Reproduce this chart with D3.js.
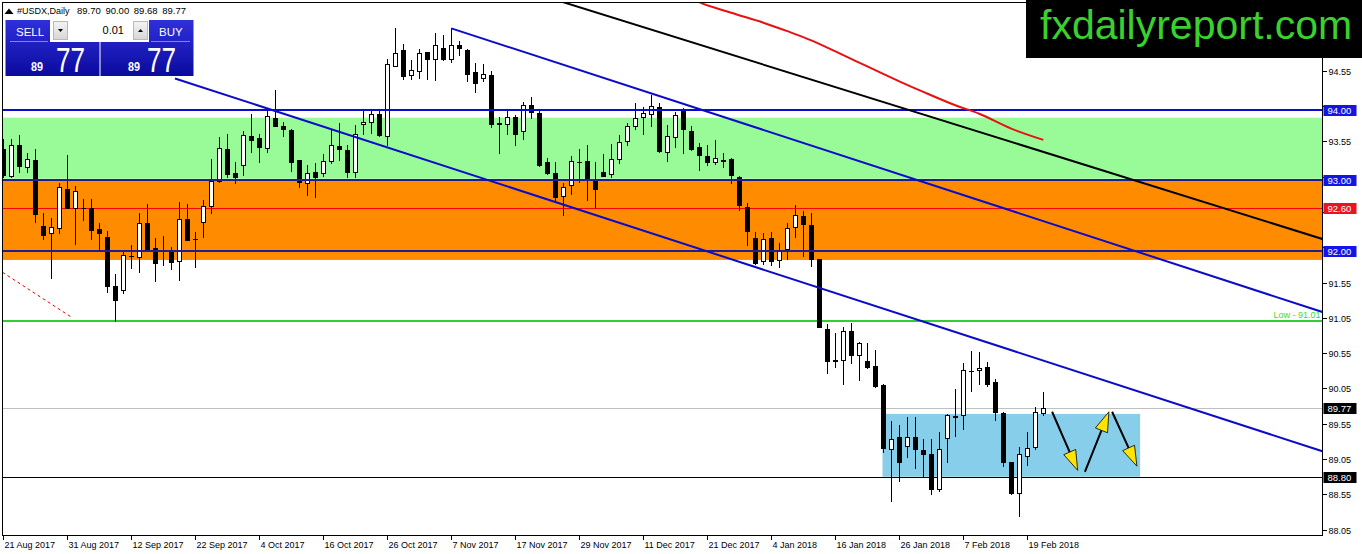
<!DOCTYPE html>
<html><head><meta charset="utf-8">
<script src="https://cdn.jsdelivr.net/npm/d3@7"></script>
<style>
html,body{margin:0;padding:0;background:#fff;overflow:hidden}
svg{display:block;font-family:"Liberation Sans",Arial,sans-serif}
</style></head><body>
<svg id="chart" width="1362" height="554"></svg>
<script>
// ---------- DATA ----------
const opens  = [93.44,93.06,93.50,93.18,93.28,92.35,92.25,92.32,92.88,92.61,92.61,92.61,92.31,92.20,91.50,91.44,91.92,91.91,92.39,92.04,
92.01,92.01,91.85,92.45,92.17,92.41,92.64,92.99,93.44,93.10,93.21,93.62,93.59,93.46,93.88,93.77,93.71,93.28,92.96,93.11,
93.10,93.27,93.49,93.43,93.12,93.80,93.83,93.93,93.63,94.62,94.84,94.49,94.54,94.81,94.72,94.87,94.71,94.91,94.85,94.53,
94.44,94.49,93.80,93.80,93.90,93.70,94.06,93.95,93.25,93.10,92.77,92.93,93.26,93.27,93.00,93.11,93.09,93.30,93.56,93.76,
93.90,93.93,94.03,93.40,93.61,93.99,93.70,93.47,93.34,93.25,93.27,93.30,93.04,92.62,92.18,91.86,92.18,91.87,92.02,92.33,
92.49,92.36,91.88,90.89,90.44,90.46,90.86,90.53,90.44,90.37,90.10,89.19,89.36,89.24,89.36,89.18,89.12,88.62,89.35,89.65,
89.67,90.30,90.31,90.35,90.14,89.70,89.01,88.57,89.09,89.22,89.70];
const highs  = [93.58,93.58,93.64,93.38,93.44,92.54,92.47,92.96,93.36,92.92,92.73,92.73,92.39,92.28,91.67,92.00,92.08,92.53,92.66,92.18,
92.21,92.06,92.69,92.66,92.27,92.72,93.30,93.61,93.66,93.26,93.69,93.93,93.65,94.00,94.28,93.83,93.73,93.29,93.21,93.24,
93.37,93.73,93.81,93.50,93.78,94.00,94.00,94.00,94.72,95.15,94.93,94.70,94.86,94.81,95.08,95.06,95.15,94.97,94.86,94.66,
94.64,94.55,93.90,93.98,93.92,94.11,94.18,93.99,93.31,93.26,92.96,93.34,93.44,93.50,93.25,93.37,93.51,93.64,93.81,94.09,
94.03,94.21,94.09,93.78,93.97,94.02,93.76,93.53,93.50,93.57,93.39,93.32,93.06,92.68,92.26,92.25,92.26,92.11,92.40,92.65,
92.57,92.54,91.89,90.97,90.83,90.92,90.98,90.71,90.70,90.59,90.12,89.59,89.53,89.64,89.64,89.34,89.33,89.44,89.69,90.04,
90.41,90.58,90.56,90.43,90.18,89.71,89.01,89.22,89.44,89.79,90.00];
const lows   = [93.05,93.05,93.12,93.12,92.41,92.17,91.62,92.25,92.60,92.10,92.44,92.17,91.99,91.41,91.01,91.40,91.76,91.70,92.02,91.57,
91.80,91.74,91.59,92.15,91.77,92.20,92.54,92.97,93.05,92.96,93.07,93.40,93.26,93.40,93.76,93.62,93.13,92.90,92.79,92.76,
93.06,93.24,93.29,93.05,93.05,93.66,93.67,93.62,93.50,94.61,94.43,94.43,94.44,94.43,94.42,94.70,94.68,94.77,94.40,94.25,
94.40,93.75,93.39,93.66,93.50,93.58,93.88,93.20,93.09,92.72,92.51,92.81,92.98,92.72,92.61,93.06,93.05,93.24,93.50,93.73,
93.66,93.76,93.40,93.27,93.47,93.38,93.43,93.15,93.22,93.23,93.19,92.96,92.58,92.08,91.81,91.81,91.80,91.77,91.88,92.20,
91.92,91.78,90.92,90.27,90.35,90.11,90.41,90.17,90.34,90.07,89.15,88.45,88.74,89.08,88.92,88.80,88.56,88.60,89.01,89.37,
89.47,90.01,90.12,90.08,89.61,88.95,88.55,88.25,88.96,89.19,89.68];
const closes = [93.07,93.50,93.20,93.30,92.52,92.23,92.33,92.90,92.61,92.85,92.60,92.30,92.25,91.50,91.30,91.94,91.92,92.40,92.02,91.82,
92.00,91.84,92.45,92.15,92.17,92.64,92.99,93.45,93.09,93.05,93.64,93.57,93.47,93.91,93.77,93.72,93.26,92.98,93.10,93.05,
93.27,93.50,93.44,93.12,93.65,93.83,93.93,93.64,94.64,94.80,94.48,94.56,94.80,94.71,94.92,94.71,94.92,94.87,94.51,94.38,
94.50,93.80,93.81,93.90,93.66,94.07,93.96,93.21,93.10,92.76,92.91,93.27,93.26,93.01,92.88,93.06,93.30,93.54,93.76,93.88,
93.95,94.05,93.41,93.62,93.92,93.72,93.44,93.36,93.26,93.31,93.28,93.07,92.65,92.28,91.83,92.16,91.86,92.00,92.32,92.51,
92.38,91.89,90.92,90.44,90.45,90.87,90.52,90.69,90.35,90.08,89.20,89.34,89.01,89.36,89.19,89.12,88.63,89.19,89.67,89.66,
90.31,90.30,90.34,90.12,89.71,89.01,88.57,89.12,89.21,89.71,89.77];

const dateLabels = ["21 Aug 2017","31 Aug 2017","12 Sep 2017","22 Sep 2017","4 Oct 2017","16 Oct 2017","26 Oct 2017",
  "7 Nov 2017","17 Nov 2017","29 Nov 2017","11 Dec 2017","21 Dec 2017","4 Jan 2018","16 Jan 2018","26 Jan 2018",
  "7 Feb 2018","19 Feb 2018"];
const dateLabelStep = 8;
const priceTicks = [95.05,94.55,94.05,93.55,93.05,92.55,92.05,91.55,91.05,90.55,90.05,89.55,89.05,88.55,88.05];

// moving average (red) read at selected bars
const maIdx = [86,87,91,95,98,101,105,108,112,115,119,122,126,130];
const maVal = [95.60,95.52,95.37,95.23,95.11,94.98,94.77,94.61,94.40,94.25,94.06,93.94,93.73,93.57];

// horizontal levels
const levelBlueTop = 94.00, levelBlueMid = 93.00, levelBlueLow = 92.00;
const levelRed = 92.60, levelLow = 91.01, levelBid = 89.77, levelBlack = 88.80;
// zones [top value, bottom value]
const greenZone = [93.885, 93.02];
const orangeZone = [93.00, 91.87];
const boxZoneIdx = [109.9, 142.1];
const boxZoneVal = [89.69, 88.80];
// trend lines: [index1, value1, index2, value2]
const upperChannel = [56, 95.15, 130, 92.42];
const lowerChannel = [21.46, 94.44, 130, 90.445];
const blackTrend = [70, 95.52, 130, 93.40];
const redDashed = [-0.3, 91.71, 8.55, 91.057];
// hand-drawn arrows
const arrowFrom = [[131.1, 89.72],[135.2, 88.87],[138.6, 89.72]];
const arrowTo   = [[134.3, 88.89],[138.2, 89.72],[141.7, 88.95]];

// ---------- LAYOUT ----------
const L = 2.5, T = 2.5, R = 1322.5, B = 535.5;
const svg = d3.select('#chart');
const x = d3.scaleLinear().domain([0, 130]).range([3.3, 1043.3]);
const y = d3.scaleLinear().domain([88.05, 94.55]).range([529.7, 70.7]);
const iLeft = x.invert(L), iRight = x.invert(R);
const LOGO_BOTTOM = 58;

const defs = svg.append('defs');
defs.append('clipPath').attr('id','plotclip').append('rect')
  .attr('x', L+0.5).attr('y', T+0.5).attr('width', R-L-1).attr('height', B-T-1);
const grad = defs.append('linearGradient').attr('id','bluegrad').attr('x1',0).attr('y1',0).attr('x2',0).attr('y2',1);
grad.append('stop').attr('offset','0%').attr('stop-color','#3030dc');
grad.append('stop').attr('offset','100%').attr('stop-color','#0a0a9e');
const btnGrad = defs.append('linearGradient').attr('id','btngrad').attr('x1',0).attr('y1',0).attr('x2',0).attr('y2',1);
btnGrad.append('stop').attr('offset','0%').attr('stop-color','#f4f4f4');
btnGrad.append('stop').attr('offset','100%').attr('stop-color','#d6d6d6');

svg.append('rect').attr('width',1362).attr('height',554).attr('fill','#fff');
const plot = svg.append('g').attr('clip-path','url(#plotclip)');

// zones
plot.append('rect').attr('x', L).attr('width', R-L)
  .attr('y', y(greenZone[0])).attr('height', y(greenZone[1]) - y(greenZone[0])).attr('fill', '#98fb98');
plot.append('rect').attr('x', L).attr('width', R-L)
  .attr('y', y(orangeZone[0])).attr('height', y(orangeZone[1]) - y(orangeZone[0])).attr('fill', '#ff8c00');
plot.append('rect').attr('x', x(boxZoneIdx[0])).attr('width', x(boxZoneIdx[1]) - x(boxZoneIdx[0]))
  .attr('y', y(boxZoneVal[0])).attr('height', y(boxZoneVal[1]) - y(boxZoneVal[0])).attr('fill', '#87ceeb');

// horizontal lines (background ones)
function hline(v, color, w) {
  const yy = Math.round(y(v)) + (w % 2 ? 0.5 : 0);
  plot.append('line').attr('x1', L).attr('x2', R).attr('y1', yy).attr('y2', yy)
    .attr('stroke', color).attr('stroke-width', w).attr('shape-rendering','crispEdges');
}
hline(levelBid, '#c0c0c0', 1);
hline(levelBlack, '#000', 1);
hline(levelRed, '#ff0000', 1);
hline(levelLow, '#32cd32', 2);

// candles
const candles = d3.range(opens.length).map(i => ({i, o: opens[i], h: highs[i], l: lows[i], c: closes[i]}));
const cg = plot.append('g').attr('shape-rendering','crispEdges');
const cx = d => Math.round(x(d.i));
cg.selectAll('line.wick').data(candles).join('line').attr('class','wick')
  .attr('x1', d => cx(d) + 0.5).attr('x2', d => cx(d) + 0.5)
  .attr('y1', d => Math.round(y(d.h))).attr('y2', d => Math.round(y(d.l)) + 1)
  .attr('stroke', '#000');
const bodyTop = d => Math.round(y(Math.max(d.o, d.c)));
const bodyBot = d => Math.round(y(Math.min(d.o, d.c)));
cg.selectAll('rect.body').data(candles.filter(d => bodyBot(d) - bodyTop(d) >= 1)).join('rect').attr('class','body')
  .attr('x', d => cx(d) - 1.5).attr('width', 4)
  .attr('y', d => bodyTop(d) + 0.5).attr('height', d => bodyBot(d) - bodyTop(d))
  .attr('fill', d => d.c >= d.o ? '#fff' : '#000').attr('stroke', '#000');
cg.selectAll('line.doji').data(candles.filter(d => bodyBot(d) - bodyTop(d) < 1)).join('line').attr('class','doji')
  .attr('x1', d => cx(d) - 2).attr('x2', d => cx(d) + 3)
  .attr('y1', d => bodyTop(d) + 0.5).attr('y2', d => bodyTop(d) + 0.5).attr('stroke', '#000');

// blue level lines on top
hline(levelBlueTop, '#0a0ad2', 2);
hline(levelBlueMid, '#1e1e8e', 2);
hline(levelBlueLow, '#1e1e8e', 2);

// trend lines
function valAt(t, i) { return t[1] + (t[3] - t[1]) / (t[2] - t[0]) * (i - t[0]); }
function ray(t, color, w, extendLeft) {
  const i1 = extendLeft ? iLeft : t[0];
  plot.append('line')
    .attr('x1', x(i1)).attr('y1', y(valAt(t, i1)))
    .attr('x2', x(iRight)).attr('y2', y(valAt(t, iRight)))
    .attr('stroke', color).attr('stroke-width', w);
}
ray(upperChannel, '#0c0cc8', 2, false);
ray(lowerChannel, '#0c0cc8', 2, false);
ray(blackTrend, '#000', 2, true);
plot.append('line')
  .attr('x1', x(iLeft)).attr('y1', y(valAt(redDashed, iLeft)))
  .attr('x2', x(redDashed[2])).attr('y2', y(redDashed[3]))
  .attr('stroke', '#e00000').attr('stroke-width', 1).attr('stroke-dasharray', '3,3');

// moving average
const maPts = maIdx.map((d, k) => [d, maVal[k]]);
plot.append('path').datum(maPts)
  .attr('d', d3.line().x(d => x(d[0])).y(d => y(d[1])).curve(d3.curveCatmullRom))
  .attr('fill','none').attr('stroke','#e81010').attr('stroke-width', 2);

// arrows
arrowFrom.forEach((f, k) => {
  const t = arrowTo[k];
  const x1 = x(f[0]), y1 = y(f[1]), x2 = x(t[0]), y2 = y(t[1]);
  const ang = Math.atan2(y2 - y1, x2 - x1);
  const hl = 20, hw = 6.5;
  const bx = x2 - hl * Math.cos(ang), by = y2 - hl * Math.sin(ang);
  plot.append('line').attr('x1', x1).attr('y1', y1).attr('x2', bx).attr('y2', by)
    .attr('stroke', '#000').attr('stroke-width', 2);
  const p = [[x2, y2], [bx + hw * Math.sin(ang), by - hw * Math.cos(ang)], [bx - hw * Math.sin(ang), by + hw * Math.cos(ang)]];
  plot.append('path').attr('d', 'M' + p.map(q => q.join(',')).join('L') + 'Z')
    .attr('fill', '#ffe400').attr('stroke', '#000').attr('stroke-width', 0.8);
});

// "Low" text
svg.append('text').attr('x', R - 2).attr('y', y(levelLow) - 2.5).attr('text-anchor','end')
  .attr('font-size', 9).attr('fill', '#33dd33').text('Low - ' + levelLow.toFixed(2));

// frame
svg.append('rect').attr('x', L).attr('y', T).attr('width', R - L).attr('height', B - T)
  .attr('fill', 'none').attr('stroke', '#000').attr('shape-rendering','crispEdges');

// price axis
const priceLabels = [[levelBlueTop,'#1414e6'],[levelBlueMid,'#1414e6'],[levelRed,'#e8141e'],[levelBlueLow,'#1414e6'],[levelBid,'#000'],[levelBlack,'#000']];
const labelYs = priceLabels.map(d => Math.round(y(d[0])));
const pa = svg.append('g');
priceTicks.forEach(v => {
  const yy = Math.round(y(v)) + 0.5;
  pa.append('line').attr('x1', R).attr('x2', R + 4).attr('y1', yy).attr('y2', yy).attr('stroke','#000').attr('shape-rendering','crispEdges');
  // a tick text hidden behind a price label or the logo is not drawn (as in the reference)
  const hidden = yy < LOGO_BOTTOM + 4 || labelYs.some(ly => Math.abs(ly - yy) < 11);
  if (!hidden)
    pa.append('text').attr('x', R + 6).attr('y', yy).attr('dy', '0.35em').attr('font-size', 9).attr('fill','#000').text(v.toFixed(2));
});
priceLabels.forEach(([v, col]) => {
  const yy = Math.round(y(v));
  pa.append('rect').attr('x', R + 1).attr('y', yy - 5).attr('width', 33).attr('height', 11).attr('fill', col);
  pa.append('text').attr('x', R + 5).attr('y', yy + 0.5).attr('dy','0.35em').attr('font-size', 9.5).attr('fill','#fff').text(v.toFixed(2));
});

// time axis
const ta = svg.append('g');
dateLabels.forEach((lab, k) => {
  const xx = Math.round(x(k * dateLabelStep)) + 0.5;
  ta.append('line').attr('x1', xx).attr('x2', xx).attr('y1', B).attr('y2', B + 4).attr('stroke','#000').attr('shape-rendering','crispEdges');
  ta.append('text').attr('x', xx + 1).attr('y', B + 12).attr('font-size', 9).attr('fill','#000').text(lab);
});

// header
svg.append('path').attr('d','M4.5,14 L9,8.5 L13.5,14 Z').attr('fill','#000');
svg.append('text').attr('x', 17).attr('y', 14).attr('font-size', 9).text('#USDX,Daily');
svg.append('text').attr('x', 77).attr('y', 14).attr('font-size', 9.5).attr('word-spacing', 2)
  .text([opens[130], highs[130], lows[130], closes[130]].map(v => v.toFixed(2)).join(' '));

// trade panel
const tp = svg.append('g');
tp.append('rect').attr('x', 5.5).attr('y', 20).attr('width', 94).attr('height', 56).attr('fill','url(#bluegrad)');
tp.append('rect').attr('x', 100.5).attr('y', 20).attr('width', 93).attr('height', 56).attr('fill','url(#bluegrad)');
tp.append('rect').attr('x', 50).attr('y', 20).attr('width', 99).attr('height', 22).attr('fill','#fff');
tp.append('line').attr('x1', 10).attr('x2', 48).attr('y1', 41.5).attr('y2', 41.5).attr('stroke','#7f86e8');
tp.append('line').attr('x1', 151).attr('x2', 190).attr('y1', 41.5).attr('y2', 41.5).attr('stroke','#7f86e8');
tp.append('rect').attr('x', 53.5).attr('y', 21.5).attr('width', 14).attr('height', 18).attr('fill','url(#btngrad)').attr('stroke','#b9b9b9');
tp.append('rect').attr('x', 133.5).attr('y', 21.5).attr('width', 14).attr('height', 18).attr('fill','url(#btngrad)').attr('stroke','#b9b9b9');
tp.append('path').attr('d','M58,29 L63,29 L60.5,32 Z').attr('fill','#000');
tp.append('path').attr('d','M138,32 L143,32 L140.5,29 Z').attr('fill','#000');
tp.append('text').attr('x', 124).attr('y', 34).attr('text-anchor','end').attr('font-size', 11).text('0.01');
tp.append('text').attr('x', 16).attr('y', 36).attr('font-size', 11.5).attr('fill','#fff').text('SELL');
tp.append('text').attr('x', 159).attr('y', 36).attr('font-size', 11.5).attr('fill','#fff').text('BUY');
const bid = closes[130].toFixed(2).split('.');
[[31, 56], [128, 147]].forEach(([sx, bx]) => {
  tp.append('text').attr('x', sx).attr('y', 71).attr('font-size', 13).attr('font-weight','bold').attr('fill','#fff')
    .attr('textLength', 12).attr('lengthAdjust','spacingAndGlyphs').text(bid[0]);
  tp.append('text').attr('x', bx).attr('y', 72).attr('font-size', 35).attr('fill','#fff')
    .attr('textLength', 29).attr('lengthAdjust','spacingAndGlyphs').text(bid[1]);
});

// logo
svg.append('rect').attr('x', 1026).attr('y', 0).attr('width', 336).attr('height', LOGO_BOTTOM).attr('fill','#000');
svg.append('text').attr('x', 1040).attr('y', 39).attr('font-size', 41).attr('fill','#3ad12c').text('fxdailyreport.com');
</script>
</body></html>
